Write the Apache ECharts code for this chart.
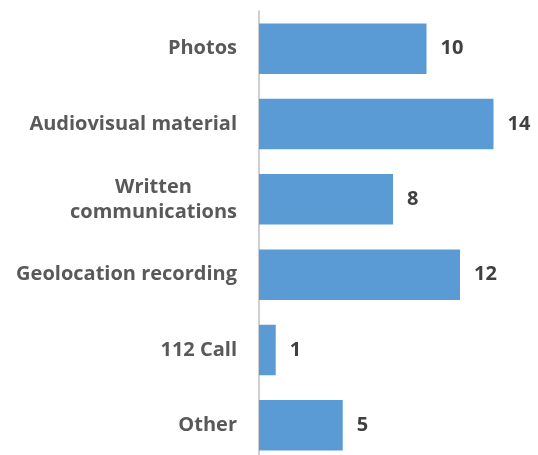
<!DOCTYPE html>
<html><head><meta charset="utf-8">
<script src="https://cdn.jsdelivr.net/npm/echarts@6/dist/echarts.min.js"></script>
<style>html,body{margin:0;padding:0;background:#fff}#c{width:538px;height:455px}</style>
</head><body><div id="c"></div>
<script>
var categories = ["Photos", "Audiovisual material", "Written communications", "Geolocation recording", "112 Call", "Other"];
var values = [10, 14, 8, 12, 1, 5];

var chart = echarts.init(document.getElementById('c'));
chart.setOption({
  animation: false,
  grid: { left: 259, top: 11, width: 268, height: 452, containLabel: false, outerBoundsMode: 'none' },
  xAxis: { type: 'value', min: 0, max: 16, show: false },
  yAxis: {
    type: 'category', inverse: true, data: categories,
    axisLine: { show: true, lineStyle: { color: '#BFBFBF', width: 1.5 } },
    axisTick: { show: false },
    axisLabel: {
      margin: 22, color: '#595959', fontFamily: 'Open Sans', fontWeight: 'bold', fontSize: 20,
      formatter: function (v) {
        if (v === 'Written communications') return '{w|Written}\n{w|communications}';
        return v;
      },
      rich: { w: { width: 167, align: 'center', color: '#595959', fontFamily: 'Open Sans', fontWeight: 'bold', fontSize: 20, lineHeight: 25 } }
    }
  },
  series: [{
    type: 'bar', data: values, barCategoryGap: '33%',
    itemStyle: { color: '#5B9BD5' },
    label: { show: true, position: 'right', distance: 14, color: '#404040', fontFamily: 'Open Sans', fontWeight: 'bold', fontSize: 20 }
  }]
});
</script></body></html>
